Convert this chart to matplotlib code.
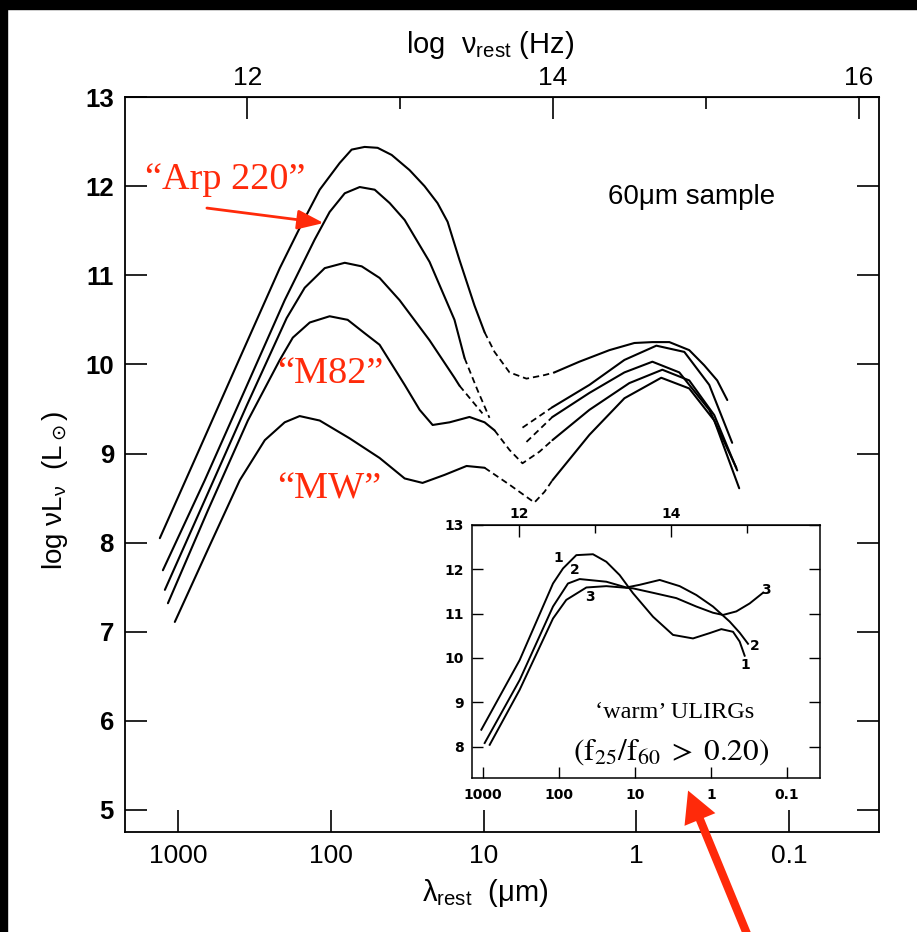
import matplotlib
matplotlib.use("Agg")
import matplotlib.pyplot as plt
import numpy as np
from matplotlib.patches import Rectangle, FancyArrowPatch

RED = '#FF2A0A'

# ---- main panel: log10(lambda_rest / um) and log nuL_nu (Lsun) ----
# each SED: solid far-IR part, dashed bridge, (dashed restart), solid near-IR part
c1_ir_x = [3.118, 2.856, 2.595, 2.333, 2.203, 2.072, 1.941, 1.863, 1.778, 1.693, 1.601, 1.484, 1.386, 1.301, 1.235, 1.157, 1.059, 0.993]
c1_ir_y = [8.05, 9.06, 10.07, 11.08, 11.53, 11.96, 12.26, 12.41, 12.44, 12.43, 12.35, 12.18, 12.00, 11.81, 11.60, 11.17, 10.66, 10.36]
c1_gap_x = [0.993, 0.928, 0.830, 0.719, 0.601, 0.536]
c1_gap_y = [10.36, 10.14, 9.91, 9.84, 9.88, 9.91]
c1_nir_x = [0.536, 0.373, 0.176, 0.013, -0.105, -0.216, -0.346, -0.444, -0.529, -0.595]
c1_nir_y = [9.91, 10.03, 10.16, 10.24, 10.25, 10.25, 10.16, 9.99, 9.82, 9.60]

c2_ir_x = [3.098, 2.824, 2.562, 2.301, 2.105, 2.007, 1.908, 1.810, 1.712, 1.614, 1.516, 1.353, 1.190, 1.124]
c2_ir_y = [7.69, 8.70, 9.71, 10.72, 11.40, 11.71, 11.92, 11.99, 11.96, 11.81, 11.62, 11.15, 10.50, 10.07]
c2_gapa_x = [1.124, 1.039, 0.961]
c2_gapa_y = [10.07, 9.71, 9.40]
c2_gapb_x = [0.745, 0.549]
c2_gapb_y = [9.29, 9.52]
c2_nir_x = [0.549, 0.307, 0.078, -0.131, -0.314, -0.477, -0.627]
c2_nir_y = [9.52, 9.77, 10.05, 10.21, 10.14, 9.77, 9.12]

c3_ir_x = [3.085, 2.810, 2.549, 2.288, 2.170, 2.039, 1.908, 1.797, 1.680, 1.549, 1.353, 1.190, 1.157]
c3_ir_y = [7.47, 8.53, 9.54, 10.52, 10.86, 11.08, 11.14, 11.10, 10.97, 10.72, 10.27, 9.85, 9.76]
c3_gapa_x = [1.157, 1.007]
c3_gapa_y = [9.76, 9.45]
c3_gapb_x = [0.719, 0.549]
c3_gapb_y = [9.13, 9.41]
c3_nir_x = [0.549, 0.307, 0.078, -0.105, -0.281, -0.477, -0.654]
c3_nir_y = [9.41, 9.68, 9.91, 10.03, 9.91, 9.49, 8.84]

m82_ir_x = [3.065, 2.804, 2.542, 2.333, 2.248, 2.137, 2.007, 1.889, 1.778, 1.680, 1.516, 1.418, 1.333, 1.222, 1.092, 0.993, 0.928]
m82_ir_y = [7.32, 8.36, 9.37, 10.05, 10.30, 10.47, 10.54, 10.50, 10.35, 10.22, 9.77, 9.49, 9.32, 9.35, 9.41, 9.35, 9.26]
m82_gap_x = [0.928, 0.830, 0.745, 0.634, 0.549]
m82_gap_y = [9.26, 9.04, 8.89, 9.02, 9.15]
m82_nir_x = [0.549, 0.307, 0.046, -0.170, -0.346, -0.510, -0.660]
m82_nir_y = [9.15, 9.49, 9.79, 9.94, 9.82, 9.43, 8.81]

mw_ir_x = [3.020, 2.791, 2.595, 2.431, 2.301, 2.203, 2.072, 1.876, 1.680, 1.516, 1.399, 1.255, 1.111, 0.993]
mw_ir_y = [7.11, 7.97, 8.70, 9.15, 9.35, 9.42, 9.37, 9.17, 8.95, 8.72, 8.67, 8.76, 8.86, 8.84]
mw_gap_x = [0.993, 0.830, 0.667, 0.601, 0.549]
mw_gap_y = [8.84, 8.65, 8.45, 8.57, 8.70]
mw_nir_x = [0.549, 0.307, 0.078, -0.163, -0.346, -0.510, -0.673]
mw_nir_y = [8.70, 9.21, 9.62, 9.85, 9.73, 9.37, 8.61]

# ---- inset: 'warm' ULIRGs ----
w1_x = [3.022, 2.518, 2.079, 1.947, 1.772, 1.553, 1.377, 1.202, 1.026, 0.763, 0.500, 0.237, 0.018, -0.136, -0.290, -0.377, -0.443]
w1_y = [8.38, 9.95, 11.68, 12.02, 12.32, 12.34, 12.17, 11.87, 11.46, 10.93, 10.52, 10.44, 10.56, 10.65, 10.59, 10.37, 10.05]
w2_x = [2.978, 2.518, 2.079, 1.882, 1.728, 1.377, 1.114, 0.939, 0.675, 0.412, 0.193, -0.026, -0.246, -0.377, -0.487]
w2_y = [8.08, 9.50, 11.16, 11.68, 11.78, 11.72, 11.59, 11.65, 11.76, 11.62, 11.42, 11.16, 10.82, 10.57, 10.32]
w3_x = [2.912, 2.518, 2.079, 1.904, 1.640, 1.377, 1.026, 0.763, 0.456, 0.193, -0.026, -0.158, -0.333, -0.509, -0.684]
w3_y = [8.04, 9.28, 10.89, 11.31, 11.59, 11.62, 11.57, 11.47, 11.35, 11.16, 11.02, 10.97, 11.05, 11.23, 11.47]

lam_ticks = [3, 2, 1, 0, -1]
lam_labels = ['1000', '100', '10', '1', '0.1']
nu_major = [12, 14, 16]
nu_minor = [13, 15]
NU_OFF = 14.545      # log nu = NU_OFF - log lambda, as drawn in the figure
NU_OFF_IN = 14.526

fig = plt.figure(figsize=(9.17, 9.32), dpi=100)
fig.patch.set_facecolor('white')

ax = fig.add_axes([0.1363, 0.1073, 0.8223, 0.7886])
kw = dict(color='black', lw=1.5, solid_capstyle='round', solid_joinstyle='round')
dash = (0, (3.5, 2.2))
sets = [
    (c1_ir_x, c1_ir_y, [(c1_gap_x, c1_gap_y)], c1_nir_x, c1_nir_y),
    (c2_ir_x, c2_ir_y, [(c2_gapa_x, c2_gapa_y), (c2_gapb_x, c2_gapb_y)], c2_nir_x, c2_nir_y),
    (c3_ir_x, c3_ir_y, [(c3_gapa_x, c3_gapa_y), (c3_gapb_x, c3_gapb_y)], c3_nir_x, c3_nir_y),
    (m82_ir_x, m82_ir_y, [(m82_gap_x, m82_gap_y)], m82_nir_x, m82_nir_y),
    (mw_ir_x, mw_ir_y, [(mw_gap_x, mw_gap_y)], mw_nir_x, mw_nir_y),
]
for irx, iry, gaps, nx, ny in sets:
    ax.plot(irx, iry, **kw)
    for gx, gy in gaps:
        ax.plot(gx, gy, color='black', lw=1.3, linestyle=dash)
    ax.plot(nx, ny, **kw)

ax.set_xlim(3.346, -1.588)
ax.set_ylim(4.753, 13)
ax.set_xticks(lam_ticks)
ax.set_xticklabels(lam_labels, family=['Liberation Sans Narrow', 'Liberation Sans'], fontsize=19)
ax.set_yticks(range(5, 14))
for lab in ax.get_yticklabels():
    lab.set_family('Liberation Sans')
    lab.set_fontsize(18.5)
    lab.set_fontweight('bold')
ax.tick_params(axis='both', direction='in', length=16, width=1.2, top=False, right=True)
ax.tick_params(axis='x', pad=9)
ax.tick_params(axis='y', pad=8)
for s in ax.spines.values():
    s.set_linewidth(1.3)

top = ax.secondary_xaxis('top', functions=(lambda x: NU_OFF - x, lambda x: NU_OFF - x))
top.set_xticks(nu_major)
top.set_xticks(nu_minor, minor=True)
top.set_xticklabels([str(v) for v in nu_major], family='Liberation Sans', fontsize=19)
top.tick_params(axis='x', which='major', direction='in', length=16, width=1.2, pad=5)
top.tick_params(axis='x', which='minor', direction='in', length=8.5, width=1.2)

ax.text(-0.359, 11.88, '60\u03bcm sample', ha='center', va='center', fontsize=20, family='Liberation Sans')

serif = dict(family='Liberation Serif', color=RED, fontsize=27.5)
ax.text(3.216, 12.07, '\u201cArp 220\u201d', ha='left', va='center', **serif)
ax.text(2.0, 9.89, '\u201cM82\u201d', ha='center', va='center', **serif)
ax.text(2.007, 8.60, '\u201cMW\u201d', ha='center', va='center', **serif)
ax.annotate('', xy=(2.046, 11.586), xytext=(2.810, 11.754),
            arrowprops=dict(arrowstyle='-|>,head_length=0.8,head_width=0.3', color=RED,
                            lw=2, mutation_scale=20, shrinkA=0, shrinkB=0))

sans = dict(family='Liberation Sans')
fig.text(55 / 917, 1 - 490 / 932, 'log \u03bdL$_\\mathregular{\u03bd}$  (L$_\\odot$)', rotation=90,
         ha='center', va='center', fontsize=20, **sans)
fig.text(490 / 917, 1 - 45 / 932, 'log  \u03bd$_\\mathregular{rest}$ (Hz)', ha='center', va='center',
         fontsize=21, **sans)
fig.text(485 / 917, 1 - 893 / 932, '\u03bb$_\\mathregular{rest}$  (\u03bcm)', ha='center', va='center',
         fontsize=21, **sans)

# ---- inset ----
ins = fig.add_axes([0.5147, 0.1652, 0.3795, 0.2715])
ins.set_facecolor('white')
for wx, wy in [(w1_x, w1_y), (w2_x, w2_y), (w3_x, w3_y)]:
    ins.plot(wx, wy, color='black', lw=1.4, solid_joinstyle='round')
ins.set_xlim(3.145, -1.434)
ins.set_ylim(7.29, 13)
ins.set_xticks(lam_ticks)
ins.set_xticklabels(lam_labels)
ins.set_yticks(range(8, 14))
ins.tick_params(axis='both', direction='in', length=8, width=1.0, labelsize=10, right=True)
ins.tick_params(axis='x', pad=7)
ins.tick_params(axis='y', pad=6)
for lab in ins.get_xticklabels() + ins.get_yticklabels():
    lab.set_fontweight('bold')
for s in ins.spines.values():
    s.set_linewidth(1.1)
itop = ins.secondary_xaxis('top', functions=(lambda x: NU_OFF_IN - x, lambda x: NU_OFF_IN - x))
itop.set_xticks(nu_major)
itop.set_xticks(nu_minor, minor=True)
itop.set_xticklabels([str(v) for v in nu_major], fontsize=10, fontweight='bold')
itop.tick_params(axis='x', which='major', direction='in', length=8.5, width=1.0, pad=3)
itop.tick_params(axis='x', which='minor', direction='in', length=6, width=1.0)

nkw = dict(fontsize=10, fontweight='bold', ha='center', va='center')
ins.text(2.013, 12.25, '1', **nkw)
ins.text(1.794, 11.98, '2', **nkw)
ins.text(1.588, 11.38, '3', **nkw)
ins.text(-0.456, 9.84, '1', **nkw)
ins.text(-0.575, 10.26, '2', **nkw)
ins.text(-0.719, 11.53, '3', **nkw)
ins.text(0.474, 8.76, '\u2018warm\u2019 ULIRGs', ha='center', va='center', fontsize=17.5,
         family='Liberation Serif')
ins.text(0.526, 7.88, r'$(\mathrm{f}_{25}/\mathrm{f}_{60}\;>\;0.20)$', ha='center', va='center',
         fontsize=22.5, math_fontfamily='stix')

# red pointer from below
arr = FancyArrowPatch((750 / 917, -0.01), (687 / 917, 1 - 788 / 932), transform=fig.transFigure,
                      arrowstyle='simple,head_length=0.45,head_width=0.48,tail_width=0.12',
                      mutation_scale=50, color=RED, lw=0, zorder=10, clip_on=False)
fig.add_artist(arr)

# black borders of the source screenshot
fig.add_artist(Rectangle((0, 1 - 9 / 932), 1, 9 / 932, transform=fig.transFigure,
                         color='black', zorder=20))
fig.add_artist(Rectangle((0, 0), 7 / 917, 1, transform=fig.transFigure, color='black', zorder=20))

fig.savefig('out.png', dpi=100, facecolor='white')
